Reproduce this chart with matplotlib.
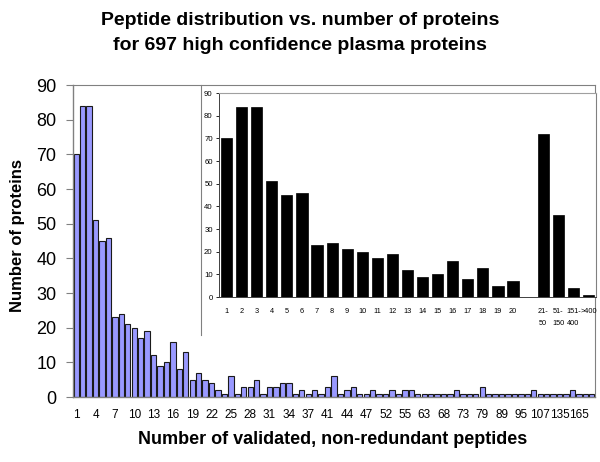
import matplotlib
matplotlib.use("Agg")
import matplotlib.pyplot as plt
from matplotlib.lines import Line2D
import numpy as np

plt.rcParams['font.family'] = ['Liberation Sans', 'DejaVu Sans']

# ---- data: main histogram (one bar per observed number of peptides) ----
main_values = [70, 84, 84, 51, 45, 46, 23, 24, 21, 20,
               17, 19, 12, 9, 10, 16, 8, 13, 5, 7,
               5, 4, 2, 1, 6, 1, 3, 3, 5, 1,
               3, 3, 4, 4, 1, 2, 1, 2, 1, 3,
               6, 1, 2, 3, 1, 1, 2, 1, 1, 2,
               1, 2, 2, 1, 1, 1, 1, 1, 1, 2,
               1, 1, 1, 3, 1, 1, 1, 1, 1, 1,
               1, 2, 1, 1, 1, 1, 1, 2, 1, 1,
               1]
main_tick_labels = ['1', '4', '7', '10', '13', '16', '19', '22', '25', '28',
                    '31', '34', '37', '41', '44', '47', '52', '55', '63', '68',
                    '73', '79', '89', '95', '107', '135', '165']

# ---- data: inset (binned) ----
inset_labels = ['1', '2', '3', '4', '5', '6', '7', '8', '9', '10',
                '11', '12', '13', '14', '15', '16', '17', '18', '19', '20',
                '21-\n50', '51-\n150', '151-\n400', '>400']
inset_values = [70, 84, 84, 51, 45, 46, 23, 24, 21, 20,
                17, 19, 12, 9, 10, 16, 8, 13, 5, 7,
                72, 36, 4, 1]

title = "Peptide distribution vs. number of proteins\nfor 697 high confidence plasma proteins"
xlabel = "Number of validated, non-redundant peptides"
ylabel = "Number of proteins"

W, H = 600, 462
fig = plt.figure(figsize=(W / 100, H / 100), dpi=100)


def px_rect(x0, y0, x1, y1):
    return [x0 / W, 1 - y1 / H, (x1 - x0) / W, (y1 - y0) / H]


# ---- main axes ----
ax = fig.add_axes(px_rect(73, 85, 595, 397))
x = np.arange(len(main_values))
ax.bar(x, main_values, width=0.82, color='#9999FF', edgecolor='#1a1a1a', linewidth=0.8)
ax.set_xlim(-0.5, len(main_values) - 0.5)
ax.set_ylim(0, 90)
ax.set_yticks(np.arange(0, 91, 10))
ax.tick_params(axis='y', labelsize=13, length=5, width=0.8, color='#808080', pad=7)
ax.set_xticks(x[::3][:len(main_tick_labels)])
ax.set_xticklabels(main_tick_labels)
ax.tick_params(axis='x', labelsize=8.5, length=0, pad=9)
for s in ['top', 'right']:
    ax.spines[s].set_color('#808080')
    ax.spines[s].set_linewidth(0.8)
for s in ['left', 'bottom']:
    ax.spines[s].set_color('#808080')
    ax.spines[s].set_linewidth(1.0)

# ---- inset chart border (left edge) ----
fig.add_artist(Line2D([201 / W, 201 / W], [1 - 85 / H, 1 - 335 / H],
                      color='#808080', linewidth=0.8))

# ---- inset axes ----
ix = fig.add_axes(px_rect(219, 93, 596, 297))
ipos = np.concatenate([np.arange(20), 21 + np.arange(len(inset_values) - 20)])
ix.bar(ipos, inset_values, width=0.74, color='black', edgecolor='black', linewidth=0.5)
ix.set_xlim(-0.5, ipos[-1] + 0.5)
ix.set_ylim(0, 90)
ix.set_yticks(np.arange(0, 91, 10))
ix.tick_params(axis='y', labelsize=5.6, length=2.5, width=0.6, pad=2)
ix.set_xticks(ipos)
ix.set_xticklabels(inset_labels, linespacing=2.0, va='top')
ix.tick_params(axis='x', labelsize=5.3, length=0, pad=8)
ix.spines['left'].set_color('#404040')
ix.spines['left'].set_linewidth(0.7)
ix.spines['bottom'].set_color('#404040')
ix.spines['bottom'].set_linewidth(0.7)
ix.spines['top'].set_color('#a0a0a0')
ix.spines['top'].set_linewidth(0.8)
ix.spines['right'].set_color('#808080')
ix.spines['right'].set_linewidth(0.8)

# ---- texts ----
fig.text(300 / W, 1 - 33 / H, title, ha='center', va='center',
         fontsize=14, fontweight='bold', linespacing=1.65)
fig.text(333 / W, 1 - 439 / H, xlabel, ha='center', va='center',
         fontsize=13, fontweight='bold')
fig.text(18 / W, 1 - 235 / H, ylabel, ha='center', va='center',
         fontsize=12, fontweight='bold', rotation=90)

fig.savefig('out.png', dpi=100)
